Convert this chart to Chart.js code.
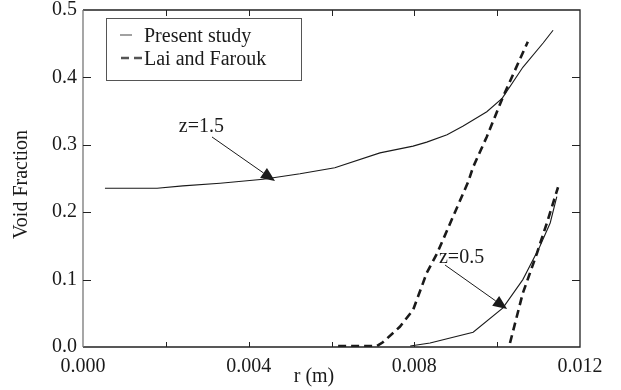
<!DOCTYPE html>
<html>
<head>
<meta charset="utf-8">
<script src="https://cdn.jsdelivr.net/npm/chart.js@4.4.0/dist/chart.umd.min.js"></script>
<style>
  html, body { margin: 0; padding: 0; background: #fff; }
  #voidChart { display: block; }
</style>
</head>
<body>
<canvas id="voidChart" width="621" height="390"></canvas>
<script>
// Radial void fraction profiles, r in metres
const presentZ15R     = [0.00053, 0.00179, 0.00241, 0.00331, 0.00435, 0.00524, 0.00608, 0.00717, 0.00797, 0.0083, 0.00879, 0.00918, 0.00975, 0.01012, 0.01062, 0.01111, 0.01135];
const presentZ15Alpha = [0.2355, 0.2355, 0.239, 0.243, 0.249, 0.257, 0.266, 0.288, 0.298, 0.304, 0.315, 0.328, 0.349, 0.369, 0.415, 0.451, 0.470];

const laiZ15R     = [0.00616, 0.0071, 0.00724, 0.00765, 0.00797, 0.0083, 0.00855, 0.0093, 0.00942, 0.00975, 0.01014, 0.01074];
const laiZ15Alpha = [0.0015, 0.0015, 0.007, 0.03, 0.055, 0.11, 0.139, 0.245, 0.267, 0.312, 0.371, 0.453];

const presentZ05R     = [0.0079, 0.00838, 0.00942, 0.01014, 0.01062, 0.01103, 0.01128, 0.01144];
const presentZ05Alpha = [0.0015, 0.006, 0.022, 0.058, 0.1, 0.149, 0.184, 0.223];

const laiZ05R     = [0.01031, 0.01062, 0.01096, 0.0112, 0.01147];
const laiZ05Alpha = [0.006, 0.08, 0.139, 0.184, 0.237];

const xTicks = { min: 0, max: 0.012, step: 0.002 };
const yTicks = { min: 0, max: 0.5, step: 0.1 };

// arrow callouts: label, label anchor, arrow tail, arrow tip (data space)
const callouts = [
  { text: 'z=1.5', at: [0.00286, 0.3264], from: [0.003115, 0.3116], to: [0.004636, 0.2463] },
  { text: 'z=0.5', at: [0.00914, 0.1328], from: [0.00874, 0.1217], to: [0.01024, 0.0564] }
];

const FONT = '"Liberation Serif", "Times New Roman", serif';
const INK = '#1a1a1a';

const pts = (xs, ys) => xs.map((x, i) => ({ x: x, y: ys[i] }));

const solid = { borderColor: INK, borderWidth: 1.1, pointRadius: 0, fill: false, tension: 0 };
const dashed = { borderColor: INK, borderWidth: 2.6, borderDash: [8, 5], pointRadius: 0, fill: false, tension: 0 };

// keep tick labels from pushing the plot box around
const noLabelPadding = s => {
  s.paddingTop = 0; s.paddingBottom = 0;
  s.paddingLeft = 0; s.paddingRight = 0;
};

const frameAndNotes = {
  id: 'frameAndNotes',
  afterDraw(chart) {
    const ctx = chart.ctx;
    const a = chart.chartArea;
    const xs = chart.scales.x, ys = chart.scales.y;
    ctx.save();

    // box frame
    ctx.lineWidth = 1.3;
    ctx.strokeStyle = '#222';
    ctx.beginPath();
    ctx.moveTo(a.left, a.bottom); ctx.lineTo(a.right, a.bottom);
    ctx.lineTo(a.right, a.top); ctx.lineTo(a.left, a.top);
    ctx.stroke();
    ctx.strokeStyle = '#777';
    ctx.beginPath();
    ctx.moveTo(a.left, a.top); ctx.lineTo(a.left, a.bottom);
    ctx.stroke();

    // inward tick marks on all four sides
    ctx.strokeStyle = '#222';
    ctx.lineWidth = 1;
    ctx.beginPath();
    xs.ticks.forEach(t => {
      if (t.value <= xTicks.min || t.value >= xTicks.max) return;
      const px = Math.round(xs.getPixelForValue(t.value)) + 0.5;
      ctx.moveTo(px, a.bottom); ctx.lineTo(px, a.bottom - 5);
      ctx.moveTo(px, a.top); ctx.lineTo(px, a.top + 6);
    });
    ys.ticks.forEach(t => {
      if (t.value <= yTicks.min || t.value >= yTicks.max) return;
      const py = Math.round(ys.getPixelForValue(t.value)) + 0.5;
      ctx.moveTo(a.left, py); ctx.lineTo(a.left + 8, py);
      ctx.moveTo(a.right, py); ctx.lineTo(a.right - 8, py);
    });
    ctx.stroke();

    // callout arrows
    ctx.fillStyle = INK;
    ctx.strokeStyle = INK;
    ctx.font = '20px ' + FONT;
    ctx.textAlign = 'center';
    ctx.textBaseline = 'middle';
    callouts.forEach(c => {
      const x0 = xs.getPixelForValue(c.from[0]), y0 = ys.getPixelForValue(c.from[1]);
      const x1 = xs.getPixelForValue(c.to[0]), y1 = ys.getPixelForValue(c.to[1]);
      const len = Math.hypot(x1 - x0, y1 - y0);
      const ux = (x1 - x0) / len, uy = (y1 - y0) / len;
      const hl = 14, hw = 6;
      const bx = x1 - ux * hl, by = y1 - uy * hl;
      ctx.lineWidth = 1;
      ctx.beginPath();
      ctx.moveTo(x0, y0); ctx.lineTo(bx, by);
      ctx.stroke();
      ctx.beginPath();
      ctx.moveTo(x1, y1);
      ctx.lineTo(bx - uy * hw, by + ux * hw);
      ctx.lineTo(bx + uy * hw, by - ux * hw);
      ctx.closePath();
      ctx.fill();
      ctx.fillText(c.text, xs.getPixelForValue(c.at[0]), ys.getPixelForValue(c.at[1]));
    });

    // legend box, one entry per line style
    const lx = a.left + 23, ly = a.top + 8, lw = 195, lh = 62;
    ctx.lineWidth = 1;
    ctx.strokeStyle = '#555';
    ctx.strokeRect(lx + 0.5, ly + 0.5, lw, lh);
    const entries = [chart.data.datasets[0], chart.data.datasets[1]];
    ctx.textAlign = 'left';
    ctx.textBaseline = 'alphabetic';
    entries.forEach((ds, i) => {
      const rowY = ly + 17 + i * 23;
      ctx.lineWidth = ds.borderWidth;
      ctx.setLineDash(ds.borderDash || []);
      ctx.beginPath();
      if (ds.borderDash) { ctx.moveTo(lx + 15, rowY); ctx.lineTo(lx + 37, rowY); }
      else { ctx.moveTo(lx + 14, rowY); ctx.lineTo(lx + 26, rowY); }
      ctx.stroke();
      ctx.setLineDash([]);
      ctx.fillText(ds.label, lx + 38, rowY + 7);
    });

    // axis titles
    ctx.textAlign = 'center';
    ctx.textBaseline = 'middle';
    ctx.fillText('r (m)', a.left + 231, chart.height - 13);
    ctx.translate(22, (a.top + a.bottom) / 2 + 6);
    ctx.rotate(-Math.PI / 2);
    ctx.fillText('Void Fraction', 0, 0);
    ctx.restore();
  }
};

new Chart(document.getElementById('voidChart'), {
  type: 'line',
  data: {
    datasets: [
      Object.assign({ label: 'Present study', data: pts(presentZ15R, presentZ15Alpha) }, solid),
      Object.assign({ label: 'Lai and Farouk', data: pts(laiZ15R, laiZ15Alpha) }, dashed),
      Object.assign({ label: 'Present study z=0.5', data: pts(presentZ05R, presentZ05Alpha) }, solid),
      Object.assign({ label: 'Lai and Farouk z=0.5', data: pts(laiZ05R, laiZ05Alpha) }, dashed)
    ]
  },
  options: {
    responsive: false,
    animation: false,
    devicePixelRatio: 1,
    layout: { padding: { top: 10, right: 41, left: 0, bottom: 0 } },
    plugins: { legend: { display: false }, tooltip: { enabled: false } },
    scales: {
      x: {
        type: 'linear',
        min: xTicks.min,
        max: xTicks.max,
        grid: { display: false, drawTicks: false },
        border: { display: false },
        afterFit: s => { s.height = 43; noLabelPadding(s); },
        ticks: {
          stepSize: xTicks.step,
          padding: 8,
          color: INK,
          maxRotation: 0,
          autoSkip: false,
          font: { family: FONT, size: 20 },
          callback: (v, i) => (i % 2 ? '' : v.toFixed(3))
        }
      },
      y: {
        min: yTicks.min,
        max: yTicks.max,
        grid: { display: false, drawTicks: false },
        border: { display: false },
        afterFit: s => { s.width = 83; noLabelPadding(s); },
        ticks: {
          stepSize: yTicks.step,
          padding: 6,
          color: INK,
          font: { family: FONT, size: 20 },
          callback: v => v.toFixed(1)
        }
      }
    }
  },
  plugins: [frameAndNotes]
});
</script>
</body>
</html>
